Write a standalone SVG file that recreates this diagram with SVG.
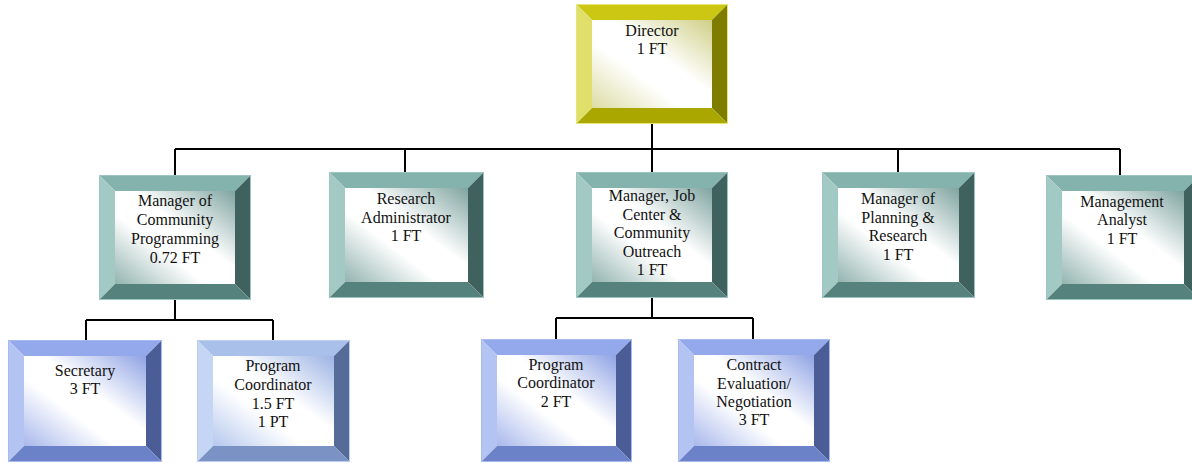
<svg xmlns="http://www.w3.org/2000/svg" width="1192" height="463" viewBox="0 0 1192 463">
<defs>
<linearGradient id="gY" x1="1" y1="0" x2="0" y2="1"><stop offset="0" stop-color="#cfcf86"/><stop offset="0.42" stop-color="#ffffff"/><stop offset="0.62" stop-color="#ffffff"/><stop offset="1" stop-color="#dcdca4"/></linearGradient>
<linearGradient id="gT" x1="1" y1="0" x2="0" y2="1"><stop offset="0" stop-color="#7fa4a0"/><stop offset="0.42" stop-color="#ffffff"/><stop offset="0.62" stop-color="#ffffff"/><stop offset="1" stop-color="#93b4b0"/></linearGradient>
<linearGradient id="gB" x1="1" y1="0" x2="0" y2="1"><stop offset="0" stop-color="#8fa3e4"/><stop offset="0.42" stop-color="#ffffff"/><stop offset="0.62" stop-color="#ffffff"/><stop offset="1" stop-color="#a9b8ec"/></linearGradient>
<linearGradient id="gS" x1="1" y1="0" x2="0" y2="1"><stop offset="0" stop-color="#9cb3e4"/><stop offset="0.42" stop-color="#ffffff"/><stop offset="0.62" stop-color="#ffffff"/><stop offset="1" stop-color="#b6c8ee"/></linearGradient>
</defs>
<style>
text{font-family:"Liberation Serif","Times New Roman",serif;font-size:16px;fill:#111;text-anchor:middle}
.c{stroke:#000;stroke-width:2;fill:none}
.Y .t{fill:#cbc713}.Y .l{fill:#e0df6a}.Y .r{fill:#7f7d00}.Y .b{fill:#aaa700}.Y .f{fill:url(#gY)}.Y .o{stroke:#e6e57a}
.T .t{fill:#84b3ae}.T .l{fill:#a3c9c5}.T .r{fill:#3f625f}.T .b{fill:#56827d}.T .f{fill:url(#gT)}.T .o{stroke:#9cc4c0}
.B .t{fill:#93a9ec}.B .l{fill:#b3c3f2}.B .r{fill:#4a5d97}.B .b{fill:#6b82c8}.B .f{fill:url(#gB)}.B .o{stroke:#a8baf0}
.S .t{fill:#a8c0ea}.S .l{fill:#c5d6f4}.S .r{fill:#566c98}.S .b{fill:#7a92c4}.S .f{fill:url(#gS)}.S .o{stroke:#bccdf0}
.o{fill:none;stroke-width:1}
</style>
<g id="connectors">
<path class="c" d="M652 124V149M175 149H1120M175 149V175M405 149V172M652 149V172M898 149V172M1120 149V175"/>
<path class="c" d="M175 300V320M86 320H273M86 320V340M273 320V340"/>
<path class="c" d="M652 298V318M556 318H753M556 318V339M753 318V339"/>
</g>
<g id="director" class="Y">
<polygon class="t" points="576,4 728,4 712,20 592,20"/>
<polygon class="l" points="576,4 592,20 592,108 576,124"/>
<polygon class="r" points="728,4 728,124 712,108 712,20"/>
<polygon class="b" points="576,124 728,124 712,108 592,108"/>
<rect class="f" x="592" y="20" width="120" height="88"/>
<rect class="o" x="576.5" y="4.5" width="151" height="119"/>
<text x="652" y="36">Director</text><text x="652" y="54">1 FT</text>
</g>
<g id="mgr-community" class="T">
<polygon class="t" points="99,175 251,175 235,191 115,191"/>
<polygon class="l" points="99,175 115,191 115,284 99,300"/>
<polygon class="r" points="251,175 251,300 235,284 235,191"/>
<polygon class="b" points="99,300 251,300 235,284 115,284"/>
<rect class="f" x="115" y="191" width="120" height="93"/>
<rect class="o" x="99.5" y="175.5" width="151" height="124"/>
<text x="175" y="206">Manager of</text><text x="175" y="225">Community</text><text x="175" y="244">Programming</text><text x="175" y="263">0.72 FT</text>
</g>
<g id="research-admin" class="T">
<polygon class="t" points="329,172 484,172 468,188 345,188"/>
<polygon class="l" points="329,172 345,188 345,282 329,298"/>
<polygon class="r" points="484,172 484,298 468,282 468,188"/>
<polygon class="b" points="329,298 484,298 468,282 345,282"/>
<rect class="f" x="345" y="188" width="123" height="94"/>
<rect class="o" x="329.5" y="172.5" width="154" height="125"/>
<text x="406" y="204">Research</text><text x="406" y="223">Administrator</text><text x="406" y="241">1 FT</text>
</g>
<g id="mgr-jobcenter" class="T">
<polygon class="t" points="576,172 728,172 712,188 592,188"/>
<polygon class="l" points="576,172 592,188 592,282 576,298"/>
<polygon class="r" points="728,172 728,298 712,282 712,188"/>
<polygon class="b" points="576,298 728,298 712,282 592,282"/>
<rect class="f" x="592" y="188" width="120" height="94"/>
<rect class="o" x="576.5" y="172.5" width="151" height="125"/>
<text x="652" y="201">Manager, Job</text><text x="652" y="219.5">Center &amp;</text><text x="652" y="238">Community</text><text x="652" y="256.5">Outreach</text><text x="652" y="275">1 FT</text>
</g>
<g id="mgr-planning" class="T">
<polygon class="t" points="822,172 975,172 959,188 838,188"/>
<polygon class="l" points="822,172 838,188 838,282 822,298"/>
<polygon class="r" points="975,172 975,298 959,282 959,188"/>
<polygon class="b" points="822,298 975,298 959,282 838,282"/>
<rect class="f" x="838" y="188" width="121" height="94"/>
<rect class="o" x="822.5" y="172.5" width="152" height="125"/>
<text x="898" y="204">Manager of</text><text x="898" y="222.5">Planning &amp;</text><text x="898" y="241">Research</text><text x="898" y="259.5">1 FT</text>
</g>
<g id="mgmt-analyst" class="T">
<polygon class="t" points="1046,175 1200,175 1184,191 1062,191"/>
<polygon class="l" points="1046,175 1062,191 1062,284 1046,300"/>
<polygon class="r" points="1200,175 1200,300 1184,284 1184,191"/>
<polygon class="b" points="1046,300 1200,300 1184,284 1062,284"/>
<rect class="f" x="1062" y="191" width="122" height="93"/>
<rect class="o" x="1046.5" y="175.5" width="153" height="124"/>
<text x="1122" y="207">Management</text><text x="1122" y="225">Analyst</text><text x="1122" y="244">1 FT</text>
</g>
<g id="secretary" class="B">
<polygon class="t" points="8,340 162,340 146,356 24,356"/>
<polygon class="l" points="8,340 24,356 24,446 8,462"/>
<polygon class="r" points="162,340 162,462 146,446 146,356"/>
<polygon class="b" points="8,462 162,462 146,446 24,446"/>
<rect class="f" x="24" y="356" width="122" height="90"/>
<rect class="o" x="8.5" y="340.5" width="153" height="121"/>
<text x="85" y="376">Secretary</text><text x="85" y="394">3 FT</text>
</g>
<g id="program-coord-1" class="S">
<polygon class="t" points="197,340 350,340 334,356 213,356"/>
<polygon class="l" points="197,340 213,356 213,446 197,462"/>
<polygon class="r" points="350,340 350,462 334,446 334,356"/>
<polygon class="b" points="197,462 350,462 334,446 213,446"/>
<rect class="f" x="213" y="356" width="121" height="90"/>
<rect class="o" x="197.5" y="340.5" width="152" height="121"/>
<text x="273" y="371">Program</text><text x="273" y="390">Coordinator</text><text x="273" y="409">1.5 FT</text><text x="273" y="427">1 PT</text>
</g>
<g id="program-coord-2" class="B">
<polygon class="t" points="481,339 632,339 616,355 497,355"/>
<polygon class="l" points="481,339 497,355 497,446 481,462"/>
<polygon class="r" points="632,339 632,462 616,446 616,355"/>
<polygon class="b" points="481,462 632,462 616,446 497,446"/>
<rect class="f" x="497" y="355" width="119" height="91"/>
<rect class="o" x="481.5" y="339.5" width="150" height="122"/>
<text x="556" y="370">Program</text><text x="556" y="388">Coordinator</text><text x="556" y="407">2 FT</text>
</g>
<g id="contract-eval" class="B">
<polygon class="t" points="678,339 830,339 814,355 694,355"/>
<polygon class="l" points="678,339 694,355 694,446 678,462"/>
<polygon class="r" points="830,339 830,462 814,446 814,355"/>
<polygon class="b" points="678,462 830,462 814,446 694,446"/>
<rect class="f" x="694" y="355" width="120" height="91"/>
<rect class="o" x="678.5" y="339.5" width="151" height="122"/>
<text x="754" y="370">Contract</text><text x="754" y="389">Evaluation/</text><text x="754" y="407">Negotiation</text><text x="754" y="425">3 FT</text>
</g>
</svg>
